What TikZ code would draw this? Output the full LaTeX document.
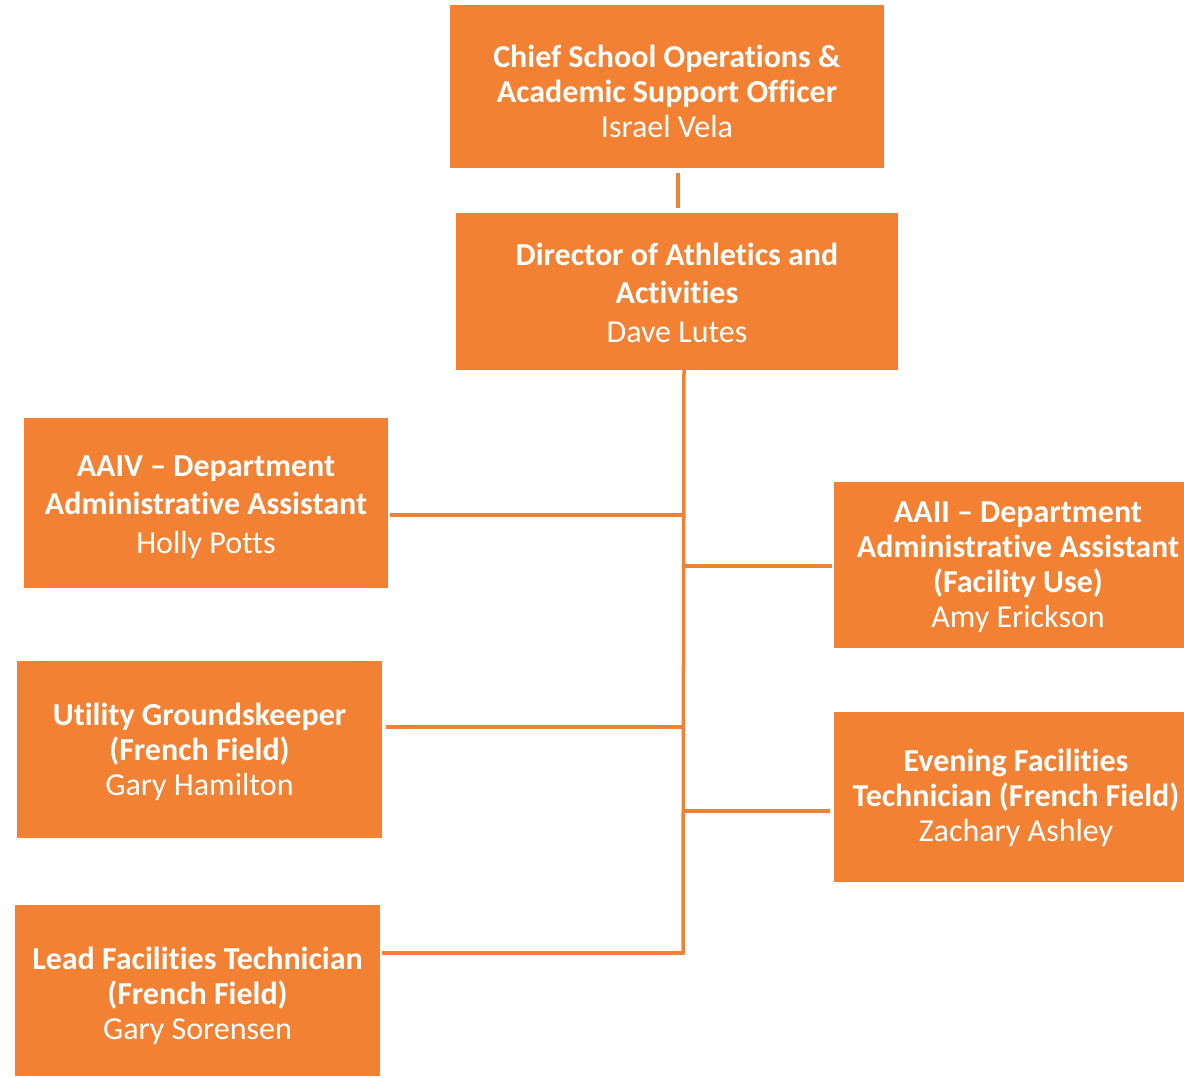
\documentclass[tikz,border=0pt]{standalone}
\usepackage{fontspec}
\setmainfont[Ligatures=NoCommon]{Carlito}
\definecolor{org}{HTML}{F28133}
\begin{document}
\begin{tikzpicture}[x=1pt,y=-1pt,
  box/.style={fill=org, draw=none, inner sep=0pt},
  txt/.style={text=white, align=center, inner sep=0pt,
    font=\fontsize{32}{35}\selectfont},
  wide/.style={font=\fontsize{32}{38.5}\selectfont},
  conn/.style={draw=org, line width=3.5pt}]
\useasboundingbox[fill=white] (0,0) rectangle (1184,1077);
\node[box, minimum width=434pt, minimum height=163pt] (chief) at (667,86.5) {};
\node[box, minimum width=442pt, minimum height=157pt] (dir) at (677,291.5) {};
\node[box, minimum width=364pt, minimum height=170pt] (aaiv) at (206,503) {};
\node[box, minimum width=350pt, minimum height=166pt] (aaii) at (1009,565) {};
\node[box, minimum width=365pt, minimum height=177pt] (util) at (199.5,749.5) {};
\node[box, minimum width=350pt, minimum height=170pt] (even) at (1009,797) {};
\node[box, minimum width=365pt, minimum height=171pt] (lead) at (197.5,990.5) {};
\node[txt] (chiefT) at ([yshift=-5pt]chief.center)
  {\textbf{Chief School Operations \&}\\\textbf{Academic Support Officer}\\Israel Vela};
\node[txt, wide] (dirT) at ([yshift=-1pt]dir.center)
  {\textbf{Director of Athletics and}\\\textbf{Activities}\\Dave Lutes};
\node[txt, wide] (aaivT) at ([yshift=-4pt]aaiv.center)
  {\textbf{AAIV -- Department}\\\textbf{Administrative Assistant}\\Holly Potts};
\node[txt] (aaiiT) at ([xshift=9pt,yshift=-2pt]aaii.center)
  {\textbf{AAII -- Department}\\\textbf{Administrative Assistant}\\\textbf{(Facility Use)}\\Amy Erickson};
\node[txt] (utilT) at ([yshift=-2pt]util.center)
  {\textbf{Utility Groundskeeper}\\\textbf{(French Field)}\\Gary Hamilton};
\node[txt] (evenT) at ([xshift=7pt,yshift=-1pt]even.center)
  {\textbf{Evening Facilities}\\\textbf{Technician (French Field)}\\Zachary Ashley};
\node[txt] (leadT) at ([yshift=-5pt]lead.center)
  {\textbf{Lead Facilities Technician}\\\textbf{(French Field)}\\Gary Sorensen};
\draw[conn] ([xshift=11pt,yshift=-5pt]chief.south) -- ([xshift=1pt,yshift=5pt]dir.north);
\coordinate (top) at (684,370);
\coordinate (bot) at (683,954.5);
\draw[conn] ([xshift=7pt]dir.south) -- (bot);
\draw[conn] ([xshift=2pt,yshift=-12pt]aaiv.east) -- ([yshift=-12pt]aaiv.east -| top);
\draw[conn] ([xshift=-2pt,yshift=-1pt]aaii.west) -- ([yshift=-1pt]aaii.west -| top);
\draw[conn] ([xshift=4pt,yshift=22.5pt]util.east) -- ([yshift=22.5pt]util.east -| top);
\draw[conn] ([xshift=-4pt,yshift=-14pt]even.west) -- ([yshift=-14pt]even.west -| top);
\draw[conn] ([xshift=2pt,yshift=37.5pt]lead.east) -- ([yshift=37.5pt]lead.east -| bot);
\end{tikzpicture}
\end{document}
